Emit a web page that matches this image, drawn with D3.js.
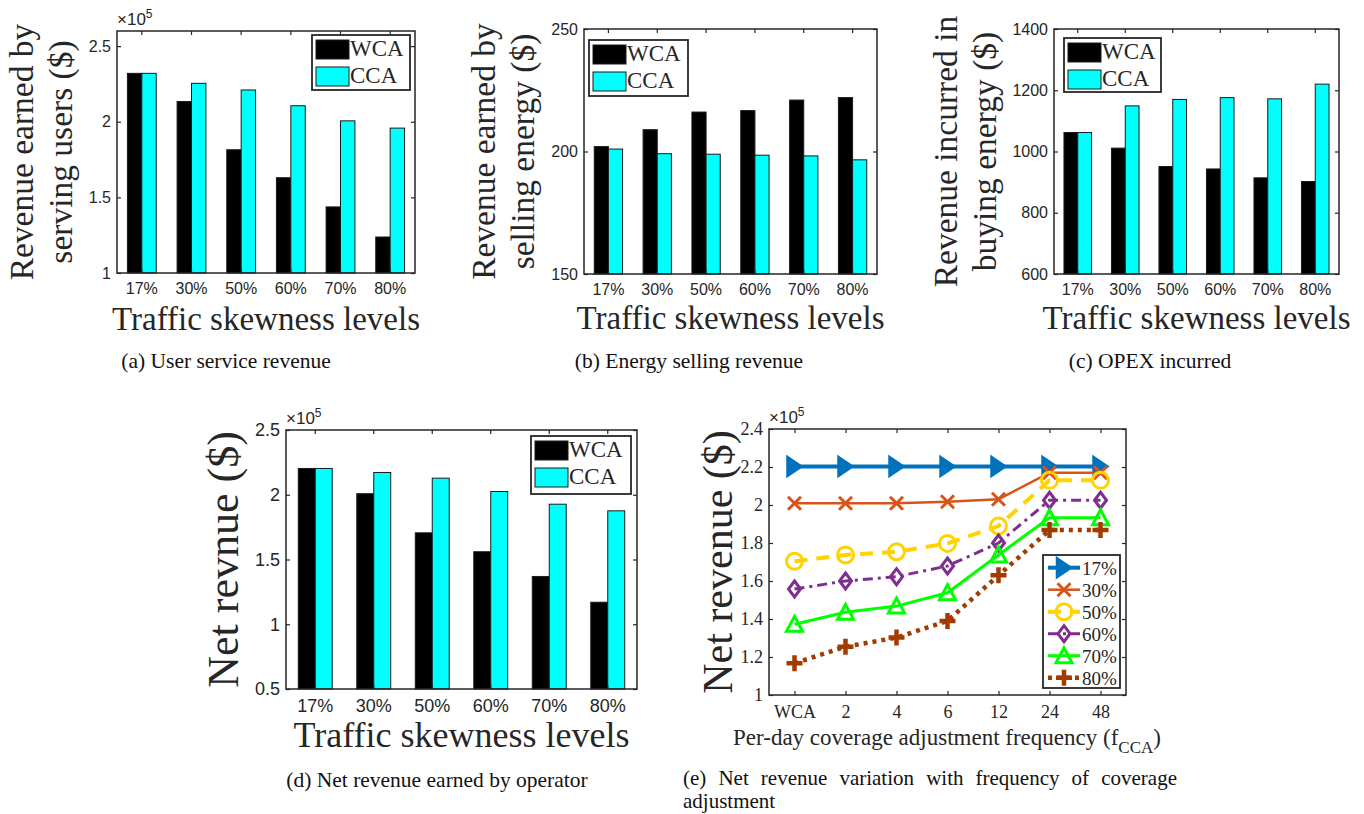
<!DOCTYPE html>
<html lang="en">
<head>
<meta charset="utf-8">
<title>Revenue comparison WCA / CCA</title>
<script src="https://cdn.jsdelivr.net/npm/d3@7"></script>
<style>
  body { margin: 0; background: #fff; }
  svg { display: block; }
</style>
</head>
<body>
<div id="fig"></div>
<script>
// ---- data ----
var levels = ["17%", "30%", "50%", "60%", "70%", "80%"];

var userWCA = [232000, 213400, 181500, 163000, 143700, 123800];
var userCCA = [232000, 225400, 221000, 210600, 200600, 195800];

var sellWCA = [202.0, 208.9, 216.1, 216.7, 221.0, 222.0];
var sellCCA = [201.0, 199.1, 198.9, 198.5, 198.2, 196.6];

var buyWCA = [1062, 1011, 951, 943, 914, 902];
var buyCCA = [1062, 1149, 1170, 1176, 1172, 1220];

var netWCA = [220300, 200800, 170600, 156000, 136900, 117000];
var netCCA = [220300, 217200, 212800, 202500, 192700, 187600];

var freqLabels = ["WCA", "2", "4", "6", "12", "24", "48"];
var net17 = [220300, 220300, 220300, 220300, 220300, 220300, 220300];
var net30 = [200900, 200900, 200900, 201700, 203000, 217000, 217000];
var net50 = [170400, 173700, 175400, 179800, 188900, 213000, 213000];
var net60 = [155800, 160000, 162300, 167900, 180000, 202500, 202500];
var net70 = [137200, 143500, 146800, 153800, 173700, 193300, 193300];
var net80 = [116700, 125400, 130200, 139000, 163000, 186800, 186800];

var ticksUser = [100000, 150000, 200000, 250000];
var ticksSell = [150, 200, 250];
var ticksBuy = [600, 800, 1000, 1200, 1400];
var ticksNet = [50000, 100000, 150000, 200000, 250000];
var ticksLine = [100000, 120000, 140000, 160000, 180000, 200000, 220000, 240000];

var AX = "#262626";
var SERIF = "'Liberation Serif', 'Times New Roman', serif";
var SANS = "'Liberation Sans', Arial, sans-serif";

var svg = d3.select("#fig").append("svg")
  .attr("width", 1364)
  .attr("height", 814);

svg.append("rect").attr("width", 1364).attr("height", 814).attr("fill", "#fff");

var exp5 = function(v) { return d3.format("~g")(+(v / 1e5).toFixed(2)); };

// draws the axes box with inward ticks on all four sides
function frame(g, x, y, box, tickFmt, tickVals, opt) {
  var ax = g.append("g").attr("transform", "translate(0," + box[3] + ")")
    .call(d3.axisBottom(x).tickSize(-4).tickSizeOuter(0).tickPadding(opt.xPad));
  var axT = g.append("g").attr("transform", "translate(0," + box[1] + ")")
    .call(d3.axisTop(x).tickSize(-4).tickSizeOuter(0).tickFormat(""));
  var ay = g.append("g").attr("transform", "translate(" + box[0] + ",0)")
    .call(d3.axisLeft(y).tickValues(tickVals).tickFormat(tickFmt).tickSize(-4).tickSizeOuter(0).tickPadding(6));
  var ayR = g.append("g").attr("transform", "translate(" + box[2] + ",0)")
    .call(d3.axisRight(y).tickValues(tickVals).tickFormat("").tickSize(-4).tickSizeOuter(0));
  [ax, axT, ay, ayR].forEach(function(a) {
    a.select(".domain").remove();
    a.selectAll("line").attr("stroke", AX).attr("stroke-width", 1.2);
  });
  ax.selectAll("text").attr("fill", AX).attr("font-family", opt.tickFont).attr("font-size", opt.tickSize);
  ay.selectAll("text").attr("fill", AX).attr("font-family", opt.tickFont).attr("font-size", opt.tickSize);
  g.append("rect")
    .attr("x", box[0]).attr("y", box[1])
    .attr("width", box[2] - box[0]).attr("height", box[3] - box[1])
    .attr("fill", "none").attr("stroke", AX).attr("stroke-width", 1.5);
  if (opt.exp) {
    var t = g.append("text").attr("x", box[0]).attr("y", box[1] - 6)
      .attr("font-family", SANS).attr("font-size", 17).attr("fill", AX);
    t.append("tspan").text("\u00d710");
    t.append("tspan").attr("dy", -7).attr("font-size", 12).text("5");
  }
}

function yLabel(g, lines, xBase, yMid, size) {
  var t = g.append("g").attr("transform", "translate(" + xBase + "," + yMid + ") rotate(-90)");
  lines.forEach(function(s, i) {
    t.append("text").attr("x", 0).attr("y", i * 39)
      .attr("text-anchor", "middle").attr("font-family", SERIF)
      .attr("font-size", size).attr("fill", AX).text(s);
  });
}

function caption(g, s, cx, y) {
  g.append("text").attr("x", cx).attr("y", y).attr("text-anchor", "middle")
    .attr("font-family", SERIF).attr("font-size", 21.5).attr("fill", "#111").text(s);
}

function barPanel(o) {
  var g = svg.append("g");
  var box = o.box;
  var x = d3.scaleBand().domain(levels).range([box[0], box[2]]).padding(0);
  var bw = x.bandwidth();
  var inner = d3.scaleBand().domain(["WCA", "CCA"]).range([bw * 0.21, bw * 0.79]);
  var y = d3.scaleLinear().domain(o.domain).range([box[3], box[1]]);
  var colors = { WCA: "#000000", CCA: "#00FFFF" };

  var rows = levels.map(function(l, i) { return { lvl: l, WCA: o.wca[i], CCA: o.cca[i] }; });
  var grp = g.selectAll("g.grp").data(rows).enter().append("g")
    .attr("transform", function(d) { return "translate(" + x(d.lvl) + ",0)"; });
  grp.selectAll("rect").data(function(d) { return ["WCA", "CCA"].map(function(k) { return { k: k, v: d[k] }; }); })
    .enter().append("rect")
    .attr("x", function(d) { return inner(d.k); })
    .attr("width", inner.bandwidth())
    .attr("y", function(d) { return y(d.v); })
    .attr("height", function(d) { return y(o.domain[0]) - y(d.v); })
    .attr("fill", function(d) { return colors[d.k]; })
    .attr("stroke", "#1a1a1a").attr("stroke-width", 1);

  frame(g, x, y, box, o.fmt, o.ticks, { xPad: 10, tickFont: SANS, tickSize: o.tick, exp: o.exp });

  yLabel(g, o.ylabel, o.ylabelX, (box[1] + box[3]) / 2, o.ylabelSize);
  g.append("text").attr("x", (box[0] + box[2]) / 2).attr("y", o.xlabelY)
    .attr("text-anchor", "middle").attr("font-family", SERIF)
    .attr("font-size", o.xlabelSize).attr("fill", AX).text("Traffic skewness levels");

  // legend
  var L = o.legend;
  var lg = g.append("g").attr("transform", "translate(" + L[0] + "," + L[1] + ")");
  lg.append("rect").attr("width", L[2]).attr("height", L[3])
    .attr("fill", "#fff").attr("stroke", AX).attr("stroke-width", 1.8);
  ["WCA", "CCA"].forEach(function(k, i) {
    lg.append("rect").attr("x", 4).attr("y", 5 + i * 27).attr("width", 33).attr("height", 19)
      .attr("fill", colors[k]).attr("stroke", "#1a1a1a").attr("stroke-width", 1);
    lg.append("text").attr("x", 38).attr("y", 21 + i * 27)
      .attr("font-family", SERIF).attr("font-size", 23).attr("fill", AX).text(k);
  });

  caption(g, o.caption, o.capX, o.capY);
}

barPanel({
  box: [117, 31, 415, 273], wca: userWCA, cca: userCCA,
  domain: [100000, 260000], ticks: ticksUser, fmt: exp5, exp: true, tick: 16,
  ylabel: ["Revenue earned by", "serving users ($)"], ylabelX: 33, ylabelSize: 33.5,
  xlabelY: 330, xlabelSize: 33, legend: [312, 35, 98, 55],
  caption: "(a) User service revenue", capX: 226, capY: 368
});

barPanel({
  box: [584, 29, 877, 274], wca: sellWCA, cca: sellCCA,
  domain: [150, 250], ticks: ticksSell, fmt: d3.format("d"), exp: false, tick: 16,
  ylabel: ["Revenue earned by", "selling energy ($)"], ylabelX: 495, ylabelSize: 33.5,
  xlabelY: 329, xlabelSize: 33, legend: [589, 40, 99, 56],
  caption: "(b) Energy selling revenue", capX: 689, capY: 368
});

barPanel({
  box: [1054, 29, 1339, 274], wca: buyWCA, cca: buyCCA,
  domain: [600, 1400], ticks: ticksBuy, fmt: d3.format("d"), exp: false, tick: 16,
  ylabel: ["Revenue incurred in", "buying energy ($)"], ylabelX: 957, ylabelSize: 33.5,
  xlabelY: 329, xlabelSize: 33, legend: [1064, 38, 97, 54],
  caption: "(c) OPEX incurred", capX: 1150, capY: 368
});

barPanel({
  box: [286, 430, 637, 689], wca: netWCA, cca: netCCA,
  domain: [50000, 250000], ticks: ticksNet, fmt: exp5, exp: true, tick: 18,
  ylabel: ["Net revnue ($)"], ylabelX: 238, ylabelSize: 44,
  xlabelY: 747, xlabelSize: 36, legend: [531, 436, 100, 58],
  caption: "(d) Net revenue earned by operator", capX: 437, capY: 787
});

// ---- panel (e): line chart ----
(function() {
  var g = svg.append("g");
  var box = [769, 429, 1126, 695];
  var x = d3.scalePoint().domain(freqLabels).range([box[0], box[2]]).padding(0.5);
  var y = d3.scaleLinear().domain([100000, 240000]).range([box[3], box[1]]);

  var series = [
    { name: "17%", vals: net17, color: "#0072BD", w: 4, dash: null, mk: "tri" },
    { name: "30%", vals: net30, color: "#D95319", w: 2.5, dash: null, mk: "x" },
    { name: "50%", vals: net50, color: "#FFD200", w: 4, dash: "13,9", mk: "o" },
    { name: "60%", vals: net60, color: "#7E2F8E", w: 3, dash: "10,5,3,5", mk: "d" },
    { name: "70%", vals: net70, color: "#00FF00", w: 3, dash: null, mk: "up" },
    { name: "80%", vals: net80, color: "#A33A00", w: 4.5, dash: "4,5", mk: "+" }
  ];

  var marks = {
    tri: "M-7,-9.5L7,0L-7,9.5Z",
    x: "M-6.5,-6.5L6.5,6.5M-6.5,6.5L6.5,-6.5",
    o: "M-8,0A8,8 0 1,0 8,0A8,8 0 1,0 -8,0Z",
    d: "M0,-8L6,0L0,8L-6,0Z",
    up: "M0,-8L8,7L-8,7Z",
    "+": "M-8,0L8,0M0,-8L0,8"
  };
  function drawMark(sel, s) {
    sel.attr("d", marks[s.mk])
      .attr("fill", s.mk === "tri" ? s.color : "none")
      .attr("stroke", s.color)
      .attr("stroke-width", s.mk === "+" ? 4.5 : (s.mk === "tri" ? 2.5 : 3))
      .attr("stroke-linejoin", "miter");
  }

  var line = d3.line()
    .x(function(d, i) { return x(freqLabels[i]); })
    .y(function(d) { return y(d); });

  series.forEach(function(s) {
    var sg = g.append("g");
    sg.append("path").datum(s.vals).attr("d", line)
      .attr("fill", "none").attr("stroke", s.color).attr("stroke-width", s.w)
      .attr("stroke-dasharray", s.dash);
    sg.selectAll("path.mk").data(s.vals).enter().append("path").attr("class", "mk")
      .attr("transform", function(d, i) { return "translate(" + x(freqLabels[i]) + "," + y(d) + ")"; })
      .call(drawMark, s);
  });

  frame(g, x, y, box, function(v) { return d3.format("~g")(+(v / 1e5).toFixed(1)); }, ticksLine,
    { xPad: 10, tickFont: SERIF, tickSize: 18, exp: true });

  yLabel(g, ["Net revenue ($)"], 732, (box[1] + box[3]) / 2, 42);

  var xl = g.append("text").attr("x", 947).attr("y", 745).attr("text-anchor", "middle")
    .attr("font-family", SERIF).attr("font-size", 23).attr("fill", AX);
  xl.append("tspan").text("Per-day coverage adjustment frequency (f");
  xl.append("tspan").attr("dy", 8).attr("font-size", 17).text("CCA");
  xl.append("tspan").attr("dy", -8).text(")");

  // legend
  var lg = g.append("g").attr("transform", "translate(1043,555)");
  lg.append("rect").attr("width", 77).attr("height", 133)
    .attr("fill", "#fff").attr("stroke", AX).attr("stroke-width", 1.8);
  series.forEach(function(s, i) {
    var cy = 12.7 + i * 22;
    lg.append("line").attr("x1", 5).attr("x2", 37).attr("y1", cy).attr("y2", cy)
      .attr("stroke", s.color).attr("stroke-width", s.w).attr("stroke-dasharray", s.dash);
    lg.append("path").attr("transform", "translate(21," + cy + ")").call(drawMark, s);
    lg.append("text").attr("x", 39).attr("y", cy + 7)
      .attr("font-family", SERIF).attr("font-size", 19).attr("fill", AX).text(s.name);
  });

  // justified two-line caption
  var words = "(e) Net revenue variation with frequency of coverage".split(" ");
  var left = 683, right = 1177;
  var ws = words.map(function(w) {
    return g.append("text").attr("y", 785).attr("font-family", SERIF)
      .attr("font-size", 21).attr("fill", "#111").text(w);
  });
  var widths = ws.map(function(t) { return t.node().getComputedTextLength(); });
  var gap = (right - left - d3.sum(widths)) / (words.length - 1);
  var cx = left;
  ws.forEach(function(t, i) { t.attr("x", cx); cx += widths[i] + gap; });
  g.append("text").attr("x", left).attr("y", 808).attr("font-family", SERIF)
    .attr("font-size", 21).attr("fill", "#111").text("adjustment");
})();
</script>
</body>
</html>
